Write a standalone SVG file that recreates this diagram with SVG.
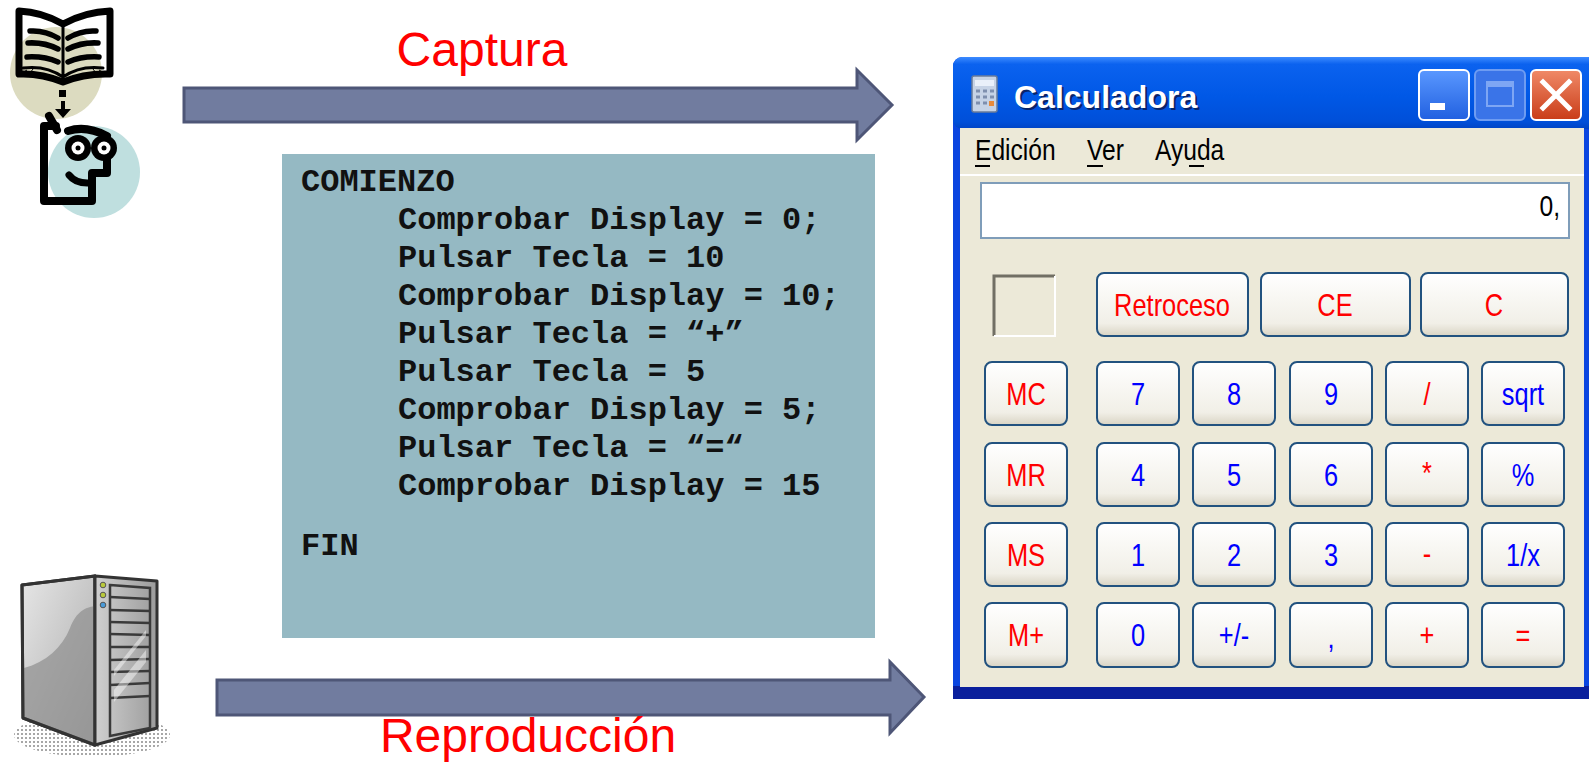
<svg xmlns="http://www.w3.org/2000/svg" width="1589" height="762" viewBox="0 0 1589 762">
  <defs>
    <style>
      .label { font-family: "Liberation Sans", Arial, sans-serif; font-size: 48px; fill: #ff0000; }
      .code { font-family: "Liberation Mono", "Courier New", monospace; font-weight: bold; font-size: 32px; fill: #111111; }
      .arrow { fill: #717c9f; stroke: #4e5677; stroke-width: 3; stroke-linejoin: miter; }
      .ink { fill: none; stroke: #000000; stroke-linecap: round; stroke-linejoin: round; }
      .btn { fill: url(#btnGrad); stroke: #22527f; stroke-width: 2; }
      .key { font-family: "Liberation Sans", Arial, sans-serif; font-size: 31px; text-anchor: middle; }
      .red { fill: #ff0000; }
      .blue { fill: #0000ff; }
      .menu { font-family: "Liberation Sans", Arial, sans-serif; font-size: 30px; fill: #000000; }
      .srv { stroke: #333333; stroke-width: 3; stroke-linejoin: round; }
      .bay { stroke: #3a3a3a; stroke-width: 2.5; fill: none; }
    </style>
    <linearGradient id="titleGrad" x1="0" y1="0" x2="0" y2="1">
      <stop offset="0" stop-color="#3d8bff"/>
      <stop offset="0.1" stop-color="#0b62ef"/>
      <stop offset="0.55" stop-color="#0058e6"/>
      <stop offset="0.9" stop-color="#004fd9"/>
      <stop offset="1" stop-color="#0044c4"/>
    </linearGradient>
    <linearGradient id="btnGrad" x1="0" y1="0" x2="0" y2="1">
      <stop offset="0" stop-color="#ffffff"/>
      <stop offset="0.8" stop-color="#f1efe7"/>
      <stop offset="1" stop-color="#d9d4c4"/>
    </linearGradient>
    <linearGradient id="minGrad" x1="0" y1="0" x2="0" y2="1">
      <stop offset="0" stop-color="#5a98ff"/>
      <stop offset="1" stop-color="#2160e0"/>
    </linearGradient>
    <linearGradient id="closeGrad" x1="0" y1="0" x2="0" y2="1">
      <stop offset="0" stop-color="#f08a68"/>
      <stop offset="1" stop-color="#c93c18"/>
    </linearGradient>
    <linearGradient id="sideGrad" x1="0" y1="0" x2="1" y2="1">
      <stop offset="0" stop-color="#e6e6e6"/>
      <stop offset="1" stop-color="#a9a9a9"/>
    </linearGradient>
    <linearGradient id="frontGrad" x1="0" y1="0" x2="1" y2="0">
      <stop offset="0" stop-color="#cfcfcf"/>
      <stop offset="1" stop-color="#9c9c9c"/>
    </linearGradient>
    <pattern id="dots" width="4" height="4" patternUnits="userSpaceOnUse">
      <circle cx="2" cy="2" r="1" fill="#8a8a8a"/>
    </pattern>
  </defs>

  <rect width="1589" height="762" fill="#ffffff"/>

  <!-- book-and-reader icon -->
  <g id="icon-capture">
    <circle cx="56" cy="73" r="46" fill="#dcdbc0"/>
    <circle cx="94" cy="172" r="46" fill="#bfdfdf"/>
    <path class="ink" stroke-width="7" d="M19,11 Q42,12 63,24 Q85,12 110,11 L110,74 Q85,73 63,82 Q41,73 19,74 Z"/>
    <path class="ink" stroke-width="5.5" d="M30,31 Q45,30 58,38 M28,43 Q44,42 58,49 M27,57 Q44,56 58,62 M96,31 Q81,30 68,38 M98,43 Q82,42 68,49 M99,57 Q82,56 68,62"/>
    <path class="ink" stroke-width="3" d="M23,68 Q46,65 63,77 Q80,65 103,68 M63,26 L63,80"/>
    <path d="M27,70 L22,73 M33,69 L30,73 M93,69 L96,73 M99,70 L104,73" stroke="#000000" stroke-width="1"/>
    <rect x="59" y="90" width="7" height="7" fill="#000000"/>
    <path d="M61,101 L65,101 L65,109 L71,109 L63,118 L55,109 L61,109 Z" fill="#000000"/>
    <!-- reader's head -->
    <path class="ink" stroke-width="8" d="M49,116 L57,130"/>
    <path class="ink" stroke-width="8" stroke-linecap="butt" stroke-linejoin="miter" d="M56,126 L44,126 L44,201 L92,201 L92,173 L107,173 L107,159"/>
    <path class="ink" stroke-width="8" d="M68,131 Q86,125 107,136"/>
    <circle cx="78" cy="148" r="13" fill="#000000"/>
    <circle cx="104" cy="148" r="13" fill="#000000"/>
    <circle cx="78" cy="148" r="6.5" fill="#ffffff"/>
    <circle cx="104" cy="148" r="6.5" fill="#ffffff"/>
    <circle cx="78" cy="148" r="2.5" fill="#000000"/>
    <circle cx="104" cy="148" r="2.5" fill="#000000"/>
    <path class="ink" stroke-width="7" d="M69,175 Q76,184 90,183"/>
  </g>

  <!-- server tower icon -->
  <g id="icon-server">
    <ellipse cx="92" cy="735" rx="78" ry="22" fill="url(#dots)"/>
    <polygon class="srv" points="22,585 95,576 95,745 23,718" fill="url(#sideGrad)"/>
    <path d="M24,668 C46,662 62,648 70,628 C77,610 86,608 94,606 L94,744 L24,718 Z" fill="#8e8e8e" opacity="0.7"/>
    <polygon class="srv" points="22,585 95,576 95,745 23,718" fill="none"/>
    <polygon class="srv" points="95,576 157,581 157,728 95,745" fill="url(#frontGrad)"/>
    <polygon class="bay" points="110,585 150,588 150,728 110,736"/>
    <path class="bay" d="M110,597 L150,599 M110,610 L150,611 M110,622 L150,623 M110,634 L150,635 M110,647 L150,647 M110,660 L150,659 M110,672 L150,671 M110,685 L150,683 M110,698 L150,696"/>
    <path d="M114,690 L146,650 L146,662 L114,702 Z M114,670 L146,630 L146,636 L114,676 Z" fill="#ffffff" opacity="0.45"/>
    <circle cx="103" cy="585" r="2.8" fill="#b8c83a" stroke="#555" stroke-width="1"/>
    <circle cx="103" cy="595" r="2.8" fill="#b8c83a" stroke="#555" stroke-width="1"/>
    <circle cx="103" cy="605" r="2.8" fill="#4a9ad8" stroke="#555" stroke-width="1"/>
  </g>

  <!-- connectors: capture and playback arrows -->
  <g id="connectors">
    <path id="arrow-capture" class="arrow" d="M184,88 L857,88 L857,70 L892,105 L857,140 L857,122 L184,122 Z"/>
    <path id="arrow-playback" class="arrow" d="M217,680 L890,680 L890,662 L924,697 L890,733 L890,715 L217,715 Z"/>
  </g>

  <g id="label-capture">
    <text class="label" x="482" y="66" text-anchor="middle">Captura</text>
  </g>
  <g id="label-playback">
    <text class="label" x="528" y="752" text-anchor="middle">Reproducción</text>
  </g>

  <!-- test script -->
  <g id="code-box">
    <rect x="282" y="154" width="593" height="484" fill="#95b9c3"/>
    <text class="code" x="301" y="191">COMIENZO</text>
    <text class="code" x="398" y="229">Comprobar Display = 0;</text>
    <text class="code" x="398" y="267">Pulsar Tecla = 10</text>
    <text class="code" x="398" y="305">Comprobar Display = 10;</text>
    <text class="code" x="398" y="343">Pulsar Tecla = “+”</text>
    <text class="code" x="398" y="381">Pulsar Tecla = 5</text>
    <text class="code" x="398" y="419">Comprobar Display = 5;</text>
    <text class="code" x="398" y="457">Pulsar Tecla = “=“</text>
    <text class="code" x="398" y="495">Comprobar Display = 15</text>
    <text class="code" x="301" y="555">FIN</text>
  </g>

  <!-- calculator window -->
  <g id="calculator">
    <rect x="953" y="57" width="650" height="642" rx="9" fill="#0a45e0"/>
    <rect x="953" y="686" width="650" height="13" fill="#0a1f9c"/>
    <rect x="953" y="57" width="650" height="72" rx="9" fill="url(#titleGrad)"/>
    <rect x="960" y="128" width="624" height="559" fill="#ece9d8"/>
    <line x1="960" y1="175" x2="1584" y2="175" stroke="#ffffff" stroke-width="2"/>

    <!-- title bar -->
    <g id="calc-icon">
      <rect x="972" y="76" width="25" height="36" rx="2" fill="#c6d3e6" stroke="#6a7c9a" stroke-width="1.5"/>
      <rect x="975" y="80" width="19" height="6" fill="#e9f0fa"/>
      <path d="M976,91 h4 m3,0 h4 m3,0 h4 M976,97 h4 m3,0 h4 m3,0 h4 M976,103 h4 m3,0 h4 m3,0 h4" stroke="#7e8fae" stroke-width="3"/>
      <rect x="989" y="101" width="5" height="5" fill="#e88a3a"/>
    </g>
    <text x="1016" y="110" font-family="'Liberation Sans', Arial, sans-serif" font-weight="bold" font-size="32" fill="#0a246a">Calculadora</text>
    <text x="1014" y="108" font-family="'Liberation Sans', Arial, sans-serif" font-weight="bold" font-size="32" fill="#ffffff">Calculadora</text>

    <rect x="1419" y="70" width="50" height="50" rx="5" fill="url(#minGrad)" stroke="#ffffff" stroke-width="2"/>
    <rect x="1430" y="103" width="15" height="7" fill="#ffffff"/>
    <rect x="1475" y="70" width="50" height="50" rx="5" fill="#3a74e8" stroke="#6e9cf2" stroke-width="2"/>
    <rect x="1487" y="82" width="26" height="24" fill="none" stroke="#7ea6f4" stroke-width="2"/>
    <rect x="1487" y="82" width="26" height="5" fill="#7ea6f4"/>
    <rect x="1531" y="70" width="50" height="50" rx="5" fill="url(#closeGrad)" stroke="#ffffff" stroke-width="2"/>
    <path d="M1543,82 L1569,108 M1569,82 L1543,108" stroke="#ffffff" stroke-width="5" stroke-linecap="square"/>

    <!-- menu bar -->
    <text class="menu" transform="translate(975,160) scale(0.82,1)">Edición</text>
    <text class="menu" transform="translate(1087,160) scale(0.82,1)">Ver</text>
    <text class="menu" transform="translate(1155,160) scale(0.82,1)">Ayuda</text>
    <path d="M975,166 h15 M1087,166 h16 M1189,166 h15" stroke="#000000" stroke-width="2"/>

    <!-- display -->
    <rect x="981" y="183" width="588" height="55" fill="#ffffff" stroke="#7f9db9" stroke-width="2"/>
    <text class="menu" transform="translate(1560,216) scale(0.82,1)" text-anchor="end" font-size="29">0,</text>

    <!-- memory indicator -->
    <rect x="993" y="275" width="63" height="62" fill="#ece9d8"/>
    <path d="M994,336 L994,276 L1055,276" fill="none" stroke="#716f64" stroke-width="3"/>
    <path d="M994,336 L1055,336 L1055,276" fill="none" stroke="#ffffff" stroke-width="2"/>

    <!-- keys -->
    <g id="keys">
      <rect class="btn" x="1097" y="273" width="151" height="63" rx="7"/>
      <rect class="btn" x="1261" y="273" width="149" height="63" rx="7"/>
      <rect class="btn" x="1421" y="273" width="147" height="63" rx="7"/>
      <text class="key red" transform="translate(1172,316) scale(0.82,1)">Retroceso</text>
      <text class="key red" transform="translate(1335,316) scale(0.82,1)">CE</text>
      <text class="key red" transform="translate(1494,316) scale(0.82,1)">C</text>

      <rect class="btn" x="985" y="362" width="82" height="63" rx="7"/>
      <rect class="btn" x="1097" y="362" width="82" height="63" rx="7"/>
      <rect class="btn" x="1193" y="362" width="82" height="63" rx="7"/>
      <rect class="btn" x="1290" y="362" width="82" height="63" rx="7"/>
      <rect class="btn" x="1386" y="362" width="82" height="63" rx="7"/>
      <rect class="btn" x="1482" y="362" width="82" height="63" rx="7"/>
      <text class="key red" transform="translate(1026,405) scale(0.82,1)">MC</text>
      <text class="key blue" transform="translate(1138,405) scale(0.82,1)">7</text>
      <text class="key blue" transform="translate(1234,405) scale(0.82,1)">8</text>
      <text class="key blue" transform="translate(1331,405) scale(0.82,1)">9</text>
      <text class="key red" transform="translate(1427,405) scale(0.82,1)">/</text>
      <text class="key blue" transform="translate(1523,405) scale(0.82,1)">sqrt</text>

      <rect class="btn" x="985" y="443" width="82" height="63" rx="7"/>
      <rect class="btn" x="1097" y="443" width="82" height="63" rx="7"/>
      <rect class="btn" x="1193" y="443" width="82" height="63" rx="7"/>
      <rect class="btn" x="1290" y="443" width="82" height="63" rx="7"/>
      <rect class="btn" x="1386" y="443" width="82" height="63" rx="7"/>
      <rect class="btn" x="1482" y="443" width="82" height="63" rx="7"/>
      <text class="key red" transform="translate(1026,486) scale(0.82,1)">MR</text>
      <text class="key blue" transform="translate(1138,486) scale(0.82,1)">4</text>
      <text class="key blue" transform="translate(1234,486) scale(0.82,1)">5</text>
      <text class="key blue" transform="translate(1331,486) scale(0.82,1)">6</text>
      <text class="key red" transform="translate(1427,484) scale(0.82,1)" font-size="22">*</text>
      <text class="key blue" transform="translate(1523,486) scale(0.82,1)">%</text>

      <rect class="btn" x="985" y="523" width="82" height="63" rx="7"/>
      <rect class="btn" x="1097" y="523" width="82" height="63" rx="7"/>
      <rect class="btn" x="1193" y="523" width="82" height="63" rx="7"/>
      <rect class="btn" x="1290" y="523" width="82" height="63" rx="7"/>
      <rect class="btn" x="1386" y="523" width="82" height="63" rx="7"/>
      <rect class="btn" x="1482" y="523" width="82" height="63" rx="7"/>
      <text class="key red" transform="translate(1026,566) scale(0.82,1)">MS</text>
      <text class="key blue" transform="translate(1138,566) scale(0.82,1)">1</text>
      <text class="key blue" transform="translate(1234,566) scale(0.82,1)">2</text>
      <text class="key blue" transform="translate(1331,566) scale(0.82,1)">3</text>
      <text class="key red" transform="translate(1427,564) scale(0.82,1)" font-size="24">-</text>
      <text class="key blue" transform="translate(1523,566) scale(0.82,1)">1/x</text>

      <rect class="btn" x="985" y="603" width="82" height="64" rx="7"/>
      <rect class="btn" x="1097" y="603" width="82" height="64" rx="7"/>
      <rect class="btn" x="1193" y="603" width="82" height="64" rx="7"/>
      <rect class="btn" x="1290" y="603" width="82" height="64" rx="7"/>
      <rect class="btn" x="1386" y="603" width="82" height="64" rx="7"/>
      <rect class="btn" x="1482" y="603" width="82" height="64" rx="7"/>
      <text class="key red" transform="translate(1026,646) scale(0.82,1)">M+</text>
      <text class="key blue" transform="translate(1138,646) scale(0.82,1)">0</text>
      <text class="key blue" transform="translate(1234,646) scale(0.82,1)">+/-</text>
      <text class="key blue" transform="translate(1331,648) scale(0.82,1)" font-size="24">,</text>
      <text class="key red" transform="translate(1427,646) scale(0.82,1)">+</text>
      <text class="key red" transform="translate(1523,646) scale(0.82,1)">=</text>
    </g>
  </g>
</svg>
